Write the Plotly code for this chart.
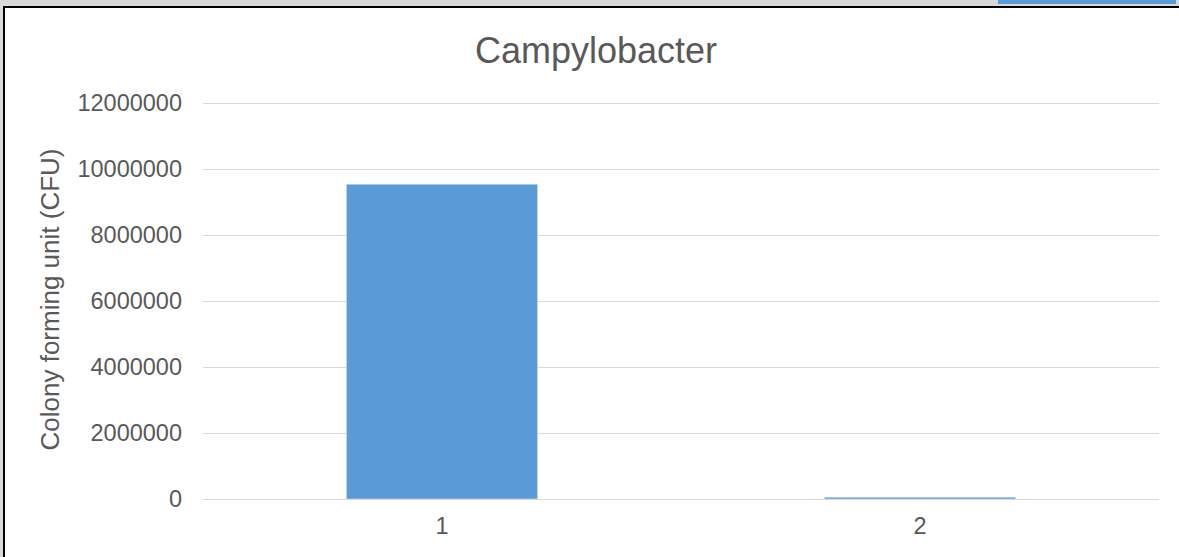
import plotly.graph_objects as go

categories = ["1", "2"]
values = [9540000, 55000]
tick_vals = [0, 2000000, 4000000, 6000000, 8000000, 10000000, 12000000]
tick_text = ["0", "2000000", "4000000", "6000000", "8000000", "10000000", "12000000"]

W, H = 1179, 557
L, R, T, B = 203, 20, 100, 58
pw, ph = W - L - R, H - T - B
y_max = 12000000 * ph / (ph - 3)

def px(x):
    return (x - L) / pw

def py(y):
    return (H - B - y) / ph

fig = go.Figure(go.Bar(x=categories, y=values, marker_color="#5b9bd5", width=0.4))

fig.update_layout(
    width=W, height=H,
    margin=dict(l=L, r=R, t=T, b=B),
    paper_bgcolor="#d9d9d9",
    plot_bgcolor="white",
    showlegend=False,
    title=dict(text="Campylobacter", x=px(596), xref="paper", xanchor="center",
               y=(H - 50) / H, yanchor="middle",
               font=dict(family="Liberation Sans, Arial", size=36, color="#595959")),
    font=dict(family="Liberation Sans, Arial", color="#595959", size=23),
    xaxis=dict(type="category", showgrid=False, showline=True, linecolor="#d9d9d9",
               linewidth=1, ticks="", ticklabelstandoff=6,
               tickfont=dict(size=23.5, color="#595959")),
    yaxis=dict(range=[0, y_max], tickvals=tick_vals, ticktext=tick_text,
               showgrid=True, gridcolor="#d9d9d9", gridwidth=1, zeroline=False,
               showline=False, ticks="", ticklabelstandoff=20,
               tickfont=dict(size=23.5, color="#595959"),
               title=dict(text="Colony forming unit (CFU)", standoff=10,
                          font=dict(size=26, color="#595959"))),
    shapes=[
        dict(type="rect", xref="paper", yref="paper", layer="below",
             x0=px(4), x1=px(1190), y0=py(570), y1=py(7),
             fillcolor="white", line=dict(color="black", width=2)),
        dict(type="rect", xref="paper", yref="paper", layer="below",
             x0=px(998), x1=px(1176), y0=py(4), y1=py(-5),
             fillcolor="#5b9bd5", line=dict(width=0)),
    ],
)

fig.write_html("out.html", config={"displayModeBar": False},
               post_script="document.body.style.margin='0';document.body.style.overflow='hidden';")
